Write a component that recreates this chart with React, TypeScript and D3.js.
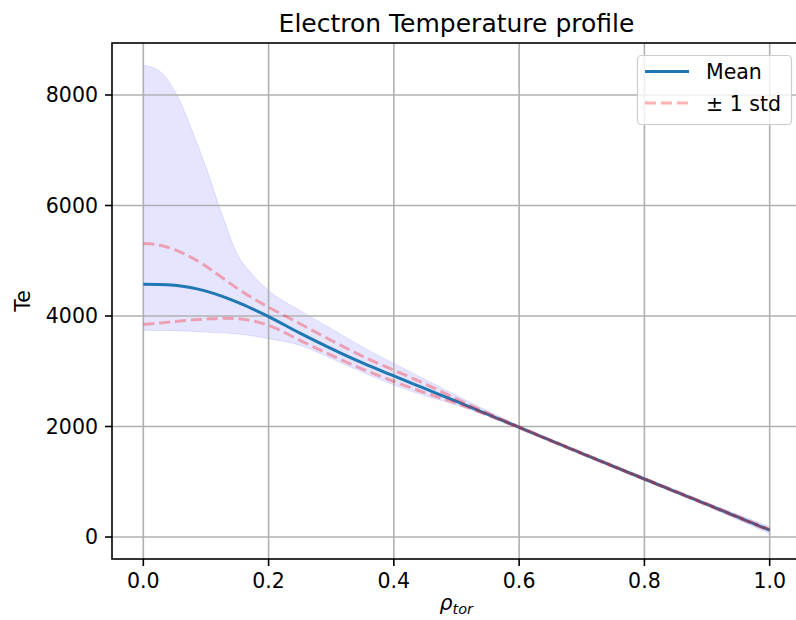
import React from "react";
import * as d3 from "d3";

const rho = [0, 0.025, 0.05, 0.075, 0.1, 0.125, 0.15, 0.175, 0.2, 0.25, 0.3, 0.35, 0.4, 0.45, 0.5, 0.6, 0.7, 0.8, 0.9, 1.0];
const meanTe = [4575, 4572, 4555, 4515, 4450, 4360, 4250, 4125, 3990, 3690, 3410, 3150, 2915, 2685, 2455, 1985, 1515, 1050, 590, 125];
const upperStd = [5310, 5285, 5200, 5070, 4900, 4700, 4500, 4320, 4160, 3860, 3560, 3270, 3020, 2770, 2500, 1995, 1523, 1058, 600, 137];
const lowerStd = [3845, 3870, 3900, 3925, 3945, 3958, 3950, 3910, 3830, 3560, 3290, 3040, 2815, 2610, 2420, 1975, 1507, 1042, 580, 113];
const bandUpper = [8540, 8440, 8080, 7440, 6690, 5860, 5120, 4740, 4460, 4100, 3770, 3440, 3140, 2850, 2560, 2010, 1530, 1070, 620, 190];
const bandLower = [3740, 3738, 3735, 3725, 3710, 3695, 3675, 3640, 3590, 3470, 3230, 2980, 2750, 2555, 2390, 1970, 1500, 1030, 560, 60];

const xTicks = [0, 0.2, 0.4, 0.6, 0.8, 1.0];
const yTicks = [0, 2000, 4000, 6000, 8000];

const W = 796;
const H = 620;
const L = 112, R = 801, T = 43, B = 559;
const FONT = "DejaVu Sans, sans-serif";

export default function App() {
  const x = d3.scaleLinear().domain([-0.05, 1.05]).range([L, R]);
  const y = d3.scaleLinear().domain([-398, 8941]).range([B, T]);
  const idx = rho.map((_, i) => i);

  const band = d3
    .area<number>()
    .x((i) => x(rho[i]))
    .y0((i) => y(bandLower[i]))
    .y1((i) => y(bandUpper[i]))
    .curve(d3.curveMonotoneX);
  const line = (arr: number[]) =>
    d3
      .line<number>()
      .x((i) => x(rho[i]))
      .y((i) => y(arr[i]))
      .curve(d3.curveMonotoneX)(idx) as string;

  return (
    <svg width={W} height={H} style={{ position: "absolute", left: 0, top: 0, background: "#fff" }} fontFamily={FONT}>
      <defs>
        <clipPath id="plot">
          <rect x={L} y={T} width={R - L} height={B - T} />
        </clipPath>
      </defs>
      <rect x={0} y={0} width={W} height={H} fill="#fff" />
      <g clipPath="url(#plot)">
        <path d={band(idx) as string} fill="blue" fillOpacity={0.1} stroke="blue" strokeOpacity={0.1} strokeWidth={1} />
        {xTicks.map((t) => (
          <line key={"gx" + t} x1={x(t)} x2={x(t)} y1={T} y2={B} stroke="#b0b0b0" strokeWidth={1.6} />
        ))}
        {yTicks.map((t) => (
          <line key={"gy" + t} x1={L} x2={R} y1={y(t)} y2={y(t)} stroke="#b0b0b0" strokeWidth={1.6} />
        ))}
        <path d={line(meanTe)} fill="none" stroke="#1f77b4" strokeWidth={3} />
        <path d={line(upperStd)} fill="none" stroke="red" strokeOpacity={0.3} strokeWidth={3} strokeDasharray="11.1 4.8" />
        <path d={line(lowerStd)} fill="none" stroke="red" strokeOpacity={0.3} strokeWidth={3} strokeDasharray="11.1 4.8" />
      </g>
      {/* spines */}
      <rect x={L} y={T} width={R - L} height={B - T} fill="none" stroke="#000" strokeWidth={1.6} />
      {/* x ticks */}
      {xTicks.map((t) => (
        <g key={"xt" + t}>
          <line x1={x(t)} x2={x(t)} y1={B} y2={B + 7} stroke="#000" strokeWidth={1.6} />
          <text x={x(t)} y={B + 29} fontSize={20.5} textAnchor="middle" fill="#000">
            {t.toFixed(1)}
          </text>
        </g>
      ))}
      {/* y ticks */}
      {yTicks.map((t) => (
        <g key={"yt" + t}>
          <line x1={L - 7} x2={L} y1={y(t)} y2={y(t)} stroke="#000" strokeWidth={1.6} />
          <text x={L - 14} y={y(t)} dy="0.36em" fontSize={20.5} textAnchor="end" fill="#000">
            {t}
          </text>
        </g>
      ))}
      {/* title */}
      <text x={(L + R) / 2} y={32} fontSize={25} textAnchor="middle" fill="#000">
        Electron Temperature profile
      </text>
      {/* y label */}
      <text transform={`translate(30, ${(T + B) / 2}) rotate(-90)`} fontSize={20.5} textAnchor="middle" fill="#000">
        Te
      </text>
      {/* x label */}
      <text x={(L + R) / 2 - 17} y={610} fontSize={20.5} fontStyle="italic" fill="#000">
        ρ
        <tspan fontSize={14.5} dy={4}>tor</tspan>
      </text>
      {/* legend */}
      <g>
        <rect x={637.5} y={55.5} width={154} height={69} rx={4} ry={4} fill="#fff" fillOpacity={0.8} stroke="#cccccc" strokeWidth={1.2} />
        <line x1={645} x2={689} y1={71.5} y2={71.5} stroke="#1f77b4" strokeWidth={3} />
        <text x={706} y={79} fontSize={20.5} fill="#000">Mean</text>
        <line x1={645} x2={689} y1={103} y2={103} stroke="red" strokeOpacity={0.3} strokeWidth={3} strokeDasharray="11.1 4.8" />
        <text x={706} y={111} fontSize={20.5} fill="#000">± 1 std</text>
      </g>
    </svg>
  );
}
